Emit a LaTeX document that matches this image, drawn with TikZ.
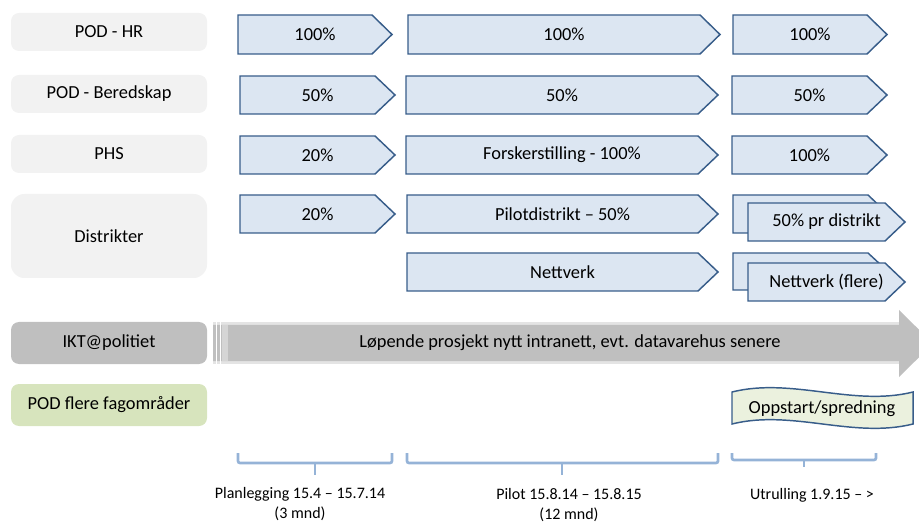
\documentclass[tikz,border=0pt]{standalone}
\usepackage{fontspec}
\setmainfont{Carlito}

\definecolor{lblgray}{HTML}{F2F2F2}
\definecolor{iktgray}{HTML}{BFBFBF}
\definecolor{iktrim}{HTML}{E4E4E4}
\definecolor{podgreen}{HTML}{D7E4BD}
\definecolor{boxfill}{HTML}{DCE6F2}
\definecolor{boxline}{HTML}{385D8A}
\definecolor{bracecol}{HTML}{95B3D7}
\definecolor{tapefill}{HTML}{EBF1DE}

% chevron box: name, left x, top y, body end x, bottom y, text
\newcommand\chevbox[6]{%
  \draw[arrowbox] (#2,#3) -- (#4,#3) -- ({#4+20},{(#3+#5)/2}) -- (#4,#5) -- (#2,#5) -- cycle;
  \node[arrowtext] (#1) at ({(#2+#4+20)/2},{(#3+#5)/2}) {#6};}

\begin{document}
\begin{tikzpicture}[x=0.75pt,y=-0.75pt,
  every node/.style={font=\fontsize{13.8}{16}\selectfont, inner sep=0pt},
  lbl/.style={fill=lblgray, rounded corners=6pt, minimum width=147pt, minimum height=28.5pt},
  arrowbox/.style={draw=boxline, fill=boxfill, line width=1.1pt, line join=miter},
  arrowtext/.style={},
  bracket/.style={draw=bracecol, line width=2pt, rounded corners=1.5pt},
  datelbl/.style={font=\fontsize{12}{15}\selectfont, align=center},
  tapebox/.style={draw=boxline, fill=tapefill, line width=1.1pt}]
\useasboundingbox (0,0) rectangle (919,523);
\clip (0,0) rectangle (919,523);

% row labels
\node[lbl] (hr)  at (109,32)  {POD - HR};
\node[lbl] (ber) at (109,94)  {POD - Beredskap};
\node[lbl] (phs) at (109,154) {PHS};
\node[lbl, minimum height=63pt, rounded corners=10pt] (dist) at (109,236) {Distrikter};
\node[lbl, fill=iktgray, minimum height=31.5pt] (ikt) at (109,343) {IKT@politiet};
\node[lbl, fill=podgreen, minimum height=31.5pt] (podf) at (109,405) {POD flere fagområder};

% planning phase
\chevbox{a11}{238}{15}{372}{54}{100\%}
\chevbox{a21}{240}{76}{375}{114}{50\%}
\chevbox{a31}{240}{136}{375}{174}{20\%}
\chevbox{a41}{240}{195}{375}{233}{20\%}

% pilot phase
\chevbox{a12}{408}{15}{700}{54}{100\%}
\chevbox{a22}{406}{76}{698}{114}{50\%}
\chevbox{a32}{406}{136}{698}{174}{Forskerstilling - 100\%}
\chevbox{a42}{407}{195}{698}{233}{Pilotdistrikt – 50\%}
\chevbox{a52}{407}{253}{698}{291}{Nettverk}

% rollout phase
\chevbox{a13}{733}{15}{867}{54}{100\%}
\chevbox{a23}{732}{76}{867}{114}{50\%}
\chevbox{a33}{732}{136}{867}{174}{100\%}
\chevbox{a43b}{733}{195}{868}{233}{}
\chevbox{a43}{748}{203}{885}{241}{50\% pr distrikt}
\chevbox{a53b}{733}{253}{868}{290}{}
\chevbox{a53}{748}{263}{885}{301}{Nettverk\ (flere)}

% ongoing IKT project arrow
\fill[iktrim] (213,322) rectangle (899,364);
\fill[iktgray] (213,325) -- (899,325) -- (899,310) -- (933,343.5) -- (899,377) -- (899,361) -- (213,361) -- cycle;
\fill[white] (215.5,322) rectangle (217,364);
\fill[white] (219.5,322) rectangle (221,364);
\fill[iktrim!60!iktgray] (222,325) rectangle (228,361);
\node (ikttext) at (570,343) {Løpende prosjekt nytt intranett, evt. datavarehus senere};

% start-up banner
\draw[tapebox] (732,392) .. controls (792,377) and (853,407) .. (913,392)
  -- (913,424) .. controls (853,439) and (792,409) .. (732,424) -- cycle;
\node (opp) at (822,409) {Oppstart/spredning};

% phase brackets
\draw[bracket] (238,453) -- (238,463) -- (392,463) -- (392,453);
\draw[bracket, rounded corners=0pt] (315,463) -- (315,475);
\draw[bracket] (407,453) -- (407,463) -- (718,463) -- (718,453);
\draw[bracket, rounded corners=0pt] (562,463) -- (562,475);
\draw[bracket] (732,453) -- (732,460) -- (876,460) -- (876,453);
\draw[bracket, rounded corners=0pt] (804,460) -- (804,467);

% phase labels
\node[datelbl] (plan) at (300,504) {Planlegging 15.4 – 15.7.14\\(3 mnd)};
\node[datelbl] (pilot) at (569,505) {Pilot 15.8.14 – 15.8.15\\(12 mnd)};
\node[datelbl] (utr) at (812,495) {Utrulling 1.9.15 – >};
\end{tikzpicture}
\end{document}
